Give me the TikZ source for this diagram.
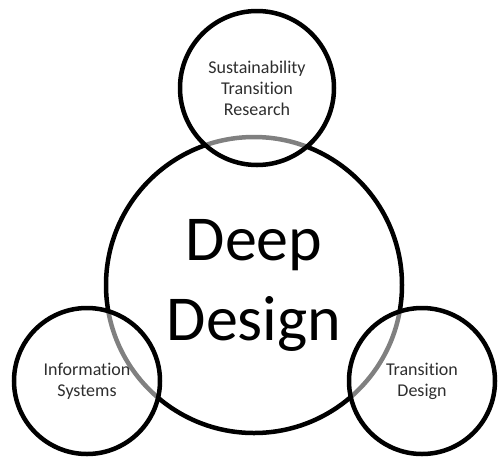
\documentclass[tikz,border=0pt]{standalone}
\usepackage{fontspec}
\setmainfont{Carlito}[Ligatures=NoCommon]
\usepackage{xcolor}
\usepackage{tikz}
\usetikzlibrary{positioning}
\definecolor{RingBlack}{HTML}{000000}
\definecolor{LabelGray}{HTML}{2E2E2E}

\tikzset{
  bigring/.style={circle, draw=RingBlack, line width=4.5pt, inner sep=0pt,
    minimum size=296pt, align=center, text=black,
    font=\fontsize{64pt}{80pt}\selectfont},
  smallring/.style={circle, draw=RingBlack, line width=4.5pt, inner sep=0pt,
    fill=white, fill opacity=0.5, draw opacity=1, text opacity=1,
    align=center, text=LabelGray, font=\fontsize{18pt}{21pt}\selectfont}
}

\begin{document}
\begin{tikzpicture}[x=1pt,y=-1pt]
        \useasboundingbox (0,0) rectangle (498,459);
        \node[bigring] (deep) at (254,285) {Deep\\Design};
        \node[smallring, minimum size=154pt] (str) at (257,88)
        {Sustainability\\Transition\\Research};
        \node[smallring, minimum size=146pt] (info) at (87,381)
        {Information\\Systems};
        \node[smallring, minimum size=146pt] (trans) at (422,381)
        {Transition\\Design};
      \end{tikzpicture}
\end{document}
